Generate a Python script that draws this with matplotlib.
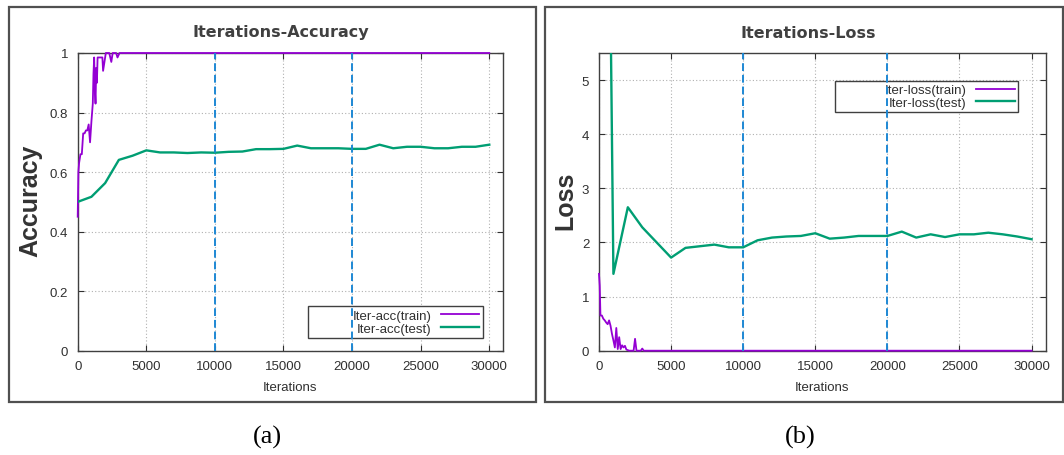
import matplotlib
matplotlib.use("Agg")
import matplotlib.pyplot as plt
from matplotlib.patches import Rectangle

# accuracy (train), noisy early part then flat at 1
acc_train_iter = [0, 50, 100, 200, 300, 400, 500, 600, 700, 800, 900, 1000, 1100, 1150, 1200,
                  1250, 1300, 1350, 1400, 1450, 1600, 1700, 1800, 1850, 1950, 2050, 2300, 2450,
                  2550, 2800, 2900, 3050, 30000]
acc_train = [0.45, 0.60, 0.63, 0.66, 0.66, 0.73, 0.73, 0.74, 0.74, 0.76, 0.70, 0.77, 0.83, 0.93,
             0.985, 0.88, 0.83, 0.95, 0.90, 0.985, 0.985, 0.985, 0.985, 0.94, 0.97, 1.0, 1.0,
             0.97, 1.0, 1.0, 0.985, 1.0, 1.0]

test_iter = [i * 1000 for i in range(31)]
acc_test = [0.50, 0.517, 0.563, 0.641, 0.655, 0.673, 0.666, 0.666, 0.664, 0.666, 0.665,
            0.668, 0.669, 0.677, 0.677, 0.678, 0.689, 0.680, 0.680, 0.680, 0.678, 0.678,
            0.692, 0.680, 0.685, 0.685, 0.680, 0.680, 0.685, 0.685, 0.692]

loss_train_iter = [0, 50, 100, 200, 300, 400, 500, 600, 700, 800, 900, 1000, 1100, 1200, 1300,
                   1400, 1500, 1600, 1700, 1800, 1900, 2000, 2100, 2400, 2500, 2600, 2900,
                   3000, 3100, 30000]
loss_train = [1.42, 1.2, 0.65, 0.65, 0.59, 0.56, 0.52, 0.49, 0.56, 0.46, 0.31, 0.19, 0.06,
              0.42, 0.03, 0.25, 0.03, 0.10, 0.06, 0.09, 0.02, 0.01, 0.0, 0.0, 0.22, 0.0,
              0.0, 0.04, 0.0, 0.0]

loss_test = [26.0, 1.42, 2.65, 2.28, 2.0, 1.72, 1.90, 1.93, 1.96, 1.91, 1.91, 2.04, 2.09,
             2.11, 2.12, 2.17, 2.07, 2.09, 2.12, 2.12, 2.12, 2.20, 2.09, 2.15, 2.10, 2.15,
             2.15, 2.18, 2.15, 2.11, 2.06]

markers_x = [10000, 20000]

PURPLE = "#9400d3"
GREEN = "#009e73"
BLUE = "#1e88d4"
SANS = "Liberation Sans"

W, H = 1064, 456
fig = plt.figure(figsize=(W / 100, H / 100), dpi=100)


def fx(px):
    return px / W


def fy(py):
    return 1 - py / H


# panel frames
for x0, x1 in [(8.5, 535.5), (545, 1063)]:
    fig.patches.append(Rectangle((fx(x0), fy(402.5)), fx(x1 - x0), (402.5 - 7.5) / H,
                                 transform=fig.transFigure, fill=False,
                                 edgecolor="#505050", lw=1.6))


def setup(ax, ylim, yticks, ylabel, label_x):
    ax.set_xlim(0, 31000)
    ax.set_ylim(*ylim)
    ax.set_xticks(range(0, 30001, 5000))
    ax.set_yticks(yticks)
    ax.grid(True, color="#b0b0b0", linestyle=(0, (1, 2)), lw=0.8)
    ax.tick_params(direction="in", length=4, top=True, right=True, labelsize=9.5,
                   colors="#303030", pad=7)
    for s in ax.spines.values():
        s.set_color("#404040")
        s.set_linewidth(1.0)
    ax.set_xlabel("Iterations", family=SANS, fontsize=9.5, color="#303030", labelpad=6)
    ax.set_ylabel(ylabel, family=SANS, fontsize=18, fontweight="bold", color="#333333")
    ax.yaxis.set_label_coords(label_x, 0.506)
    for x in markers_x:
        ax.axvline(x, color=BLUE, lw=1.4, linestyle=(0, (4, 2)), zorder=6)


def legend(ax, loc, anchor, width_px):
    leg = ax.legend(loc=loc, bbox_to_anchor=anchor, borderaxespad=0, markerfirst=False,
                    fancybox=False, framealpha=1, edgecolor="#404040",
                    prop={"family": SANS, "size": 9.5}, handlelength=2.9,
                    handletextpad=0.75, labelspacing=0.05, borderpad=0.25)
    leg.get_frame().set_linewidth(1.0)
    for col in leg._legend_handle_box.get_children():
        col.align = "right"
        col.width = width_px
    for t in leg.get_texts():
        t.set_color("#303030")
    return leg


def sans_ticks(ax):
    for lab in ax.get_xticklabels() + ax.get_yticklabels():
        lab.set_family(SANS)


# (a) accuracy
ax1 = fig.add_axes([fx(77.7), fy(351.7), fx(503 - 77.7), (351.7 - 54) / H])
ax1.plot(acc_train_iter, acc_train, color=PURPLE, lw=1.3, label="Iter-acc(train)",
         zorder=3, clip_on=False)
ax1.plot(test_iter, acc_test, color=GREEN, lw=1.7, label="Iter-acc(test)", zorder=3)
setup(ax1, (0, 1), [0, 0.2, 0.4, 0.6, 0.8, 1], "Accuracy", -0.084)
ax1.set_yticklabels(["0", "0.2", "0.4", "0.6", "0.8", "1"])
sans_ticks(ax1)
legend(ax1, "lower right", (0.952, 0.043), 168)

# (b) loss
ax2 = fig.add_axes([fx(599), fy(351.7), fx(1046 - 599), (351.7 - 54) / H])
ax2.plot(loss_train_iter, loss_train, color=PURPLE, lw=1.3, label="Iter-loss(train)",
         zorder=3, clip_on=False)
ax2.plot(test_iter, loss_test, color=GREEN, lw=1.7, label="Iter-loss(test)", zorder=3)
setup(ax2, (0, 5.5), [0, 1, 2, 3, 4, 5], "Loss", -0.049)
sans_ticks(ax2)
legend(ax2, "upper right", (0.937, 0.907), 176)

title_kw = dict(family="DejaVu Sans", fontsize=11.5, fontweight="bold", color="#404040",
                ha="center", va="center")
fig.text(fx(281), fy(33), "Iterations-Accuracy", **title_kw)
fig.text(fx(808), fy(33), "Iterations-Loss", **title_kw)

cap_kw = dict(family="Liberation Serif", fontsize=19, ha="center", va="center", color="black")
fig.text(fx(267), fy(437), "(a)", **cap_kw)
fig.text(fx(800), fy(437), "(b)", **cap_kw)

fig.savefig("out.png", dpi=100)
